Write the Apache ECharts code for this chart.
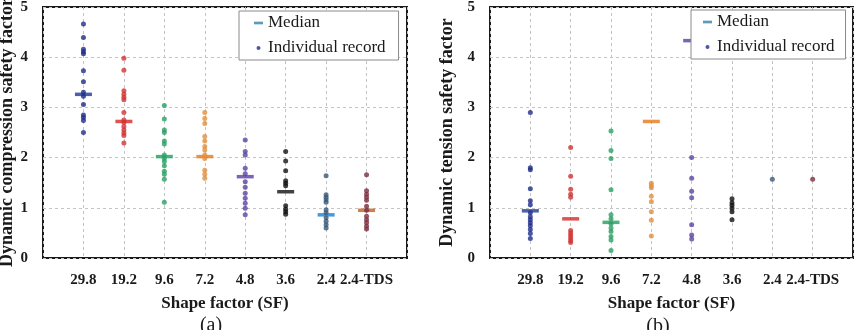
<!DOCTYPE html>
<html>
<head>
<meta charset="utf-8">
<script src="https://cdn.jsdelivr.net/npm/echarts@6/dist/echarts.min.js"></script>
<style>
  html, body { margin: 0; padding: 0; background: #fff; }
  #chart { width: 858px; height: 330px; }
</style>
</head>
<body>
<div id="chart"></div>
<script>
const categories = ['29.8', '19.2', '9.6', '7.2', '4.8', '3.6', '2.4', '2.4-TDS'];
const yTicks = [0, 1, 2, 3, 4, 5];

// (a) dynamic compression safety factor
const compressionRecords = [
  [4.66, 4.39, 4.16, 4.11, 4.07, 3.73, 3.51, 3.30, 3.22, 3.06, 2.85, 2.80, 2.74, 2.50],
  [3.98, 3.74, 3.33, 3.26, 3.20, 3.15, 2.90, 2.75, 2.70, 2.62, 2.55, 2.49, 2.44, 2.29],
  [3.04, 2.77, 2.55, 2.50, 2.33, 2.27, 2.05, 1.98, 1.92, 1.84, 1.73, 1.67, 1.57, 1.11],
  [2.90, 2.78, 2.68, 2.42, 2.33, 2.22, 2.15, 2.05, 1.98, 1.75, 1.67, 1.59],
  [2.35, 2.12, 2.05, 1.79, 1.68, 1.52, 1.41, 1.29, 1.19, 1.09, 0.99, 0.86],
  [2.12, 1.93, 1.74, 1.54, 1.49, 1.44, 1.04, 0.97, 0.92, 0.87],
  [1.64, 1.26, 1.21, 1.16, 1.11, 0.96, 0.90, 0.80, 0.73, 0.66, 0.60],
  [1.66, 1.34, 1.27, 1.21, 1.15, 1.03, 0.95, 0.83, 0.76, 0.70, 0.63, 0.58]
];
const compressionMedians = [3.26, 2.72, 2.02, 2.02, 1.62, 1.32, 0.86, 0.95];

// (b) dynamic tension safety factor
const tensionRecords = [
  [2.90, 1.80, 1.76, 1.38, 1.14, 1.06, 0.90, 0.82, 0.76, 0.70, 0.64, 0.57, 0.49, 0.39],
  [2.20, 1.63, 1.37, 1.27, 1.21, 0.55, 0.50, 0.45, 0.40, 0.35, 0.31],
  [2.53, 2.14, 1.98, 1.36, 0.86, 0.78, 0.68, 0.60, 0.53, 0.43, 0.36, 0.15],
  [1.49, 1.44, 1.40, 1.23, 1.12, 0.92, 0.75, 0.44],
  [2.00, 1.59, 1.33, 1.20, 0.66, 0.46, 0.38],
  [1.18, 1.10, 1.05, 0.99, 0.92, 0.76],
  [1.57],
  [1.57]
];
const tensionMedians = [0.94, 0.78, 0.71, 2.72, 4.33, null, null, null];

const dotColors = ['#1f2d8a', '#d03434', '#2a9f64', '#e0903e', '#5a43a3', '#111111', '#3a5878', '#7a2e3e'];
const medianColors = ['#1f3a9a', '#d42a22', '#1f9f5e', '#e27a1c', '#5a3ca2', '#111111', '#1c7fd0', '#c0601c'];

const FONT = 'Liberation Serif';

function recordData(records) {
  const out = [];
  records.forEach((vals, i) => {
    vals.forEach(v => out.push({value: [i + 1, v], itemStyle: {color: dotColors[i]}}));
  });
  return out;
}

function medianData(medians) {
  const out = [];
  medians.forEach((v, i) => {
    if (v != null) out.push({value: [i + 1, v], itemStyle: {color: medianColors[i]}});
  });
  return out;
}

function grid(left, right) {
  return {
    left: left, right: right, top: 7, bottom: 72,
    show: true, borderWidth: 2, borderColor: '#1a1a1a',
    outerBoundsMode: 'none'
  };
}

function xAxis(idx) {
  return {
    type: 'value', gridIndex: idx, min: 0, max: categories.length + 1, interval: 1,
    name: 'Shape factor (SF)', nameLocation: 'middle', nameGap: 37,
    nameTextStyle: {fontFamily: FONT, fontSize: 17, fontWeight: 'bold', color: '#1a1a1a'},
    axisLine: {show: false}, axisTick: {show: false},
    axisLabel: {
      margin: 15, fontFamily: FONT, fontSize: 15, fontWeight: 'bold', color: '#1a1a1a',
      formatter: v => categories[v - 1] || ''
    },
    splitLine: {show: true, lineStyle: {color: '#c4c4c4', type: [3, 3]}}
  };
}

function yAxis(idx, name, gap) {
  return {
    type: 'value', gridIndex: idx, min: yTicks[0], max: yTicks[yTicks.length - 1], interval: 1,
    name: name, nameLocation: 'middle', nameGap: gap,
    nameTextStyle: {fontFamily: FONT, fontSize: 18, fontWeight: 'bold', color: '#1a1a1a'},
    axisLine: {show: false}, axisTick: {show: false},
    axisLabel: {margin: 15, fontFamily: FONT, fontSize: 15, fontWeight: 'bold', color: '#1a1a1a'},
    splitLine: {show: true, lineStyle: {color: '#c4c4c4', type: [3, 3]}}
  };
}

function legend(left, top, pad) {
  return {
    left: left, top: top, orient: 'vertical',
    data: [
      {name: 'Median', icon: 'path://M0,0H10V3H0Z'},
      {name: 'Individual record', icon: 'circle'}
    ],
    itemWidth: 9, itemHeight: 4, itemGap: 5,
    padding: pad,
    backgroundColor: '#fff', borderColor: '#8a8a8a', borderWidth: 1, borderRadius: 0,
    textStyle: {fontFamily: FONT, fontSize: 17, color: '#1a1a1a', lineHeight: 20},
    selectedMode: false
  };
}

const chart = echarts.init(document.getElementById('chart'), null, {renderer: 'canvas'});
chart.setOption({
  backgroundColor: '#fff',
  animation: false,
  textStyle: {fontFamily: FONT},
  title: [
    {text: '(a)', left: 211, top: 316, textAlign: 'center', padding: 0,
      textStyle: {fontFamily: FONT, fontSize: 20, fontWeight: 'normal', color: '#1a1a1a'}},
    {text: '(b)', left: 658, top: 317, textAlign: 'center', padding: 0,
      textStyle: {fontFamily: FONT, fontSize: 20, fontWeight: 'normal', color: '#1a1a1a'}}
  ],
  legend: [legend(239, 11, [2, 13, 2, 15]), legend(691, 10, [2, 11, 2, 12])],
  grid: [grid(43, 451), grid(490, 5)],
  xAxis: [xAxis(0), xAxis(1)],
  yAxis: [
    yAxis(0, 'Dynamic compression safety factor', 26),
    yAxis(1, 'Dynamic tension safety factor', 34)
  ],
  series: [
    {name: 'Median', type: 'scatter', xAxisIndex: 0, yAxisIndex: 0, z: 2,
      symbol: 'rect', symbolSize: [17, 3.5], itemStyle: {color: '#3582a8'},
      data: medianData(compressionMedians)},
    {name: 'Individual record', type: 'scatter', xAxisIndex: 0, yAxisIndex: 0, z: 3,
      symbol: 'circle', symbolSize: 5, itemStyle: {color: '#1f2d8a'},
      data: recordData(compressionRecords)},
    {name: 'Median', type: 'scatter', xAxisIndex: 1, yAxisIndex: 1, z: 2,
      symbol: 'rect', symbolSize: [17, 3.5], itemStyle: {color: '#3582a8'},
      data: medianData(tensionMedians)},
    {name: 'Individual record', type: 'scatter', xAxisIndex: 1, yAxisIndex: 1, z: 3,
      symbol: 'circle', symbolSize: 5, itemStyle: {color: '#1f2d8a'},
      data: recordData(tensionRecords)}
  ]
});
</script>
</body>
</html>
